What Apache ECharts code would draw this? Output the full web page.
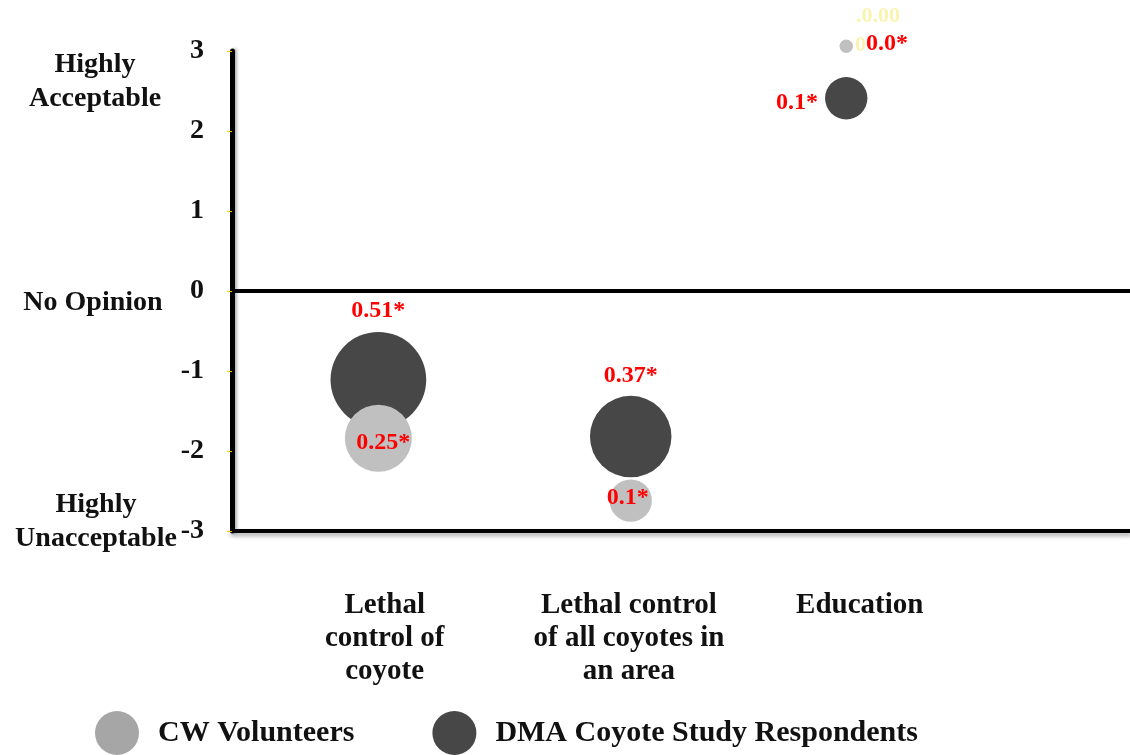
<!DOCTYPE html>
<html>
<head>
<meta charset="utf-8">
<script src="https://cdn.jsdelivr.net/npm/echarts@6.0.0/dist/echarts.min.js"></script>
<style>
  html, body { margin: 0; padding: 0; background: #fff; }
  #myChart { width: 1130px; height: 755px; }
</style>
</head>
<body>
<div id="myChart"></div>
<script>
  // categories and where they sit along the (hidden) x scale
  var categories = ['Lethal\ncontrol of\ncoyote', 'Lethal control\nof all coyotes in\nan area', 'Education'];
  var bubbleX = [1.63, 4.44, 6.84];
  var labelX = [1.70, 4.42, 6.99];

  // CW Volunteers
  var cwMean = [-1.84, -2.62, 3.06];
  var cwSize = [0.25, 0.1, 0.01];
  var cwText = ['0.25*', '0.1*', '0.0*'];

  // DMA Coyote Study Respondents
  var dmaMean = [-1.11, -1.82, 2.41];
  var dmaSize = [0.51, 0.37, 0.1];
  var dmaText = ['0.51*', '0.37*', '0.1*'];

  var serif = '"Liberation Serif", "Times New Roman", serif';

  // label placement per point (style only)
  var cwLabelPos = [
    {position: 'inside', offset: [5, 5]},
    {position: 'inside', offset: [-3, -3]},
    {position: 'right', distance: 13, offset: [0, -2]}
  ];
  var dmaLabelPos = [
    {position: 'top', distance: 9},
    {position: 'top', distance: 8},
    {position: 'left', distance: 7, offset: [0, 5]}
  ];

  function buildData(means, sizes, texts, pos) {
    var out = [];
    for (var i = 0; i < means.length; i++) {
      out.push({
        value: [bubbleX[i], means[i], sizes[i]],
        label: Object.assign({
          show: true,
          formatter: texts[i],
          color: '#ff0000',
          fontFamily: serif,
          fontWeight: 'bold',
          fontSize: 24
        }, pos[i])
      });
    }
    return out;
  }

  function bubbleSize(val) {
    return 134 * Math.sqrt(val[2]);
  }

  var myChart = echarts.init(document.getElementById('myChart'));
  myChart.setOption({
    animation: false,
    grid: {left: 232, right: 0, top: 51, bottom: 224},
    legend: {
      left: 90,
      top: 706,
      icon: 'circle',
      itemWidth: 44,
      itemHeight: 44,
      itemGap: 78,
      data: [
        {name: 'CW Volunteers', itemStyle: {color: '#a6a6a6'}},
        {name: 'DMA Coyote Study Respondents', itemStyle: {color: '#474747'}}
      ],
      textStyle: {
        fontFamily: serif,
        fontWeight: 'bold',
        fontSize: 30,
        color: '#111',
        padding: [0, 0, 0, 14]
      }
    },
    xAxis: {
      type: 'value',
      min: 0,
      max: 10,
      axisLine: {
        show: true,
        onZero: false,
        lineStyle: {color: '#000', width: 4, shadowColor: 'rgba(0,0,0,0.35)', shadowBlur: 4, shadowOffsetY: 3}
      },
      axisTick: {show: false},
      splitLine: {show: false},
      axisLabel: {
        customValues: labelX,
        formatter: function (v) {
          var i = labelX.indexOf(v);
          return i >= 0 ? categories[i] : '';
        },
        margin: 58,
        fontFamily: serif,
        fontWeight: 'bold',
        fontSize: 29,
        lineHeight: 33,
        color: '#111',
        align: 'center'
      }
    },
    yAxis: {
      type: 'value',
      min: -3,
      max: 3,
      interval: 1,
      axisLine: {
        show: true,
        lineStyle: {color: '#000', width: 5, shadowColor: 'rgba(0,0,0,0.3)', shadowBlur: 3, shadowOffsetX: 2}
      },
      axisTick: {show: true, length: 5, lineStyle: {color: '#f2c200', width: 1}},
      splitLine: {show: false},
      axisLabel: {
        margin: 28,
        fontFamily: serif,
        fontWeight: 'bold',
        fontSize: 28,
        color: '#111',
        padding: [4, 0, 0, 0]
      }
    },
    graphic: [
      {type: 'text', x: 95, y: 82, style: {text: 'Highly\nAcceptable', font: 'bold 28px ' + serif, fill: '#111', align: 'center', verticalAlign: 'middle', lineHeight: 34}},
      {type: 'text', x: 93, y: 303, style: {text: 'No Opinion', font: 'bold 28px ' + serif, fill: '#111', align: 'center', verticalAlign: 'middle'}},
      {type: 'text', x: 96, y: 522, style: {text: 'Highly\nUnacceptable', font: 'bold 28px ' + serif, fill: '#111', align: 'center', verticalAlign: 'middle', lineHeight: 34}},
      {type: 'text', x: 856, y: 16, style: {text: '.0.00', font: 'bold 22px ' + serif, fill: '#fbf3b0', align: 'left', verticalAlign: 'middle'}},
      {type: 'text', x: 855, y: 45, style: {text: '0', font: 'bold 22px ' + serif, fill: '#fbf3b0', align: 'left', verticalAlign: 'middle'}}
    ],
    series: [
      {
        name: 'DMA Coyote Study Respondents',
        type: 'scatter',
        z: 2,
        clip: false,
        symbolSize: bubbleSize,
        itemStyle: {color: '#474747', opacity: 1},
        data: buildData(dmaMean, dmaSize, dmaText, dmaLabelPos),
        markLine: {
          silent: true,
          symbol: 'none',
          label: {show: false},
          lineStyle: {color: '#000', width: 4, type: 'solid'},
          data: [{yAxis: 0}]
        }
      },
      {
        name: 'CW Volunteers',
        type: 'scatter',
        z: 3,
        clip: false,
        symbolSize: bubbleSize,
        itemStyle: {color: '#c0c0c0', opacity: 1},
        data: buildData(cwMean, cwSize, cwText, cwLabelPos)
      }
    ]
  });
</script>
</body>
</html>
